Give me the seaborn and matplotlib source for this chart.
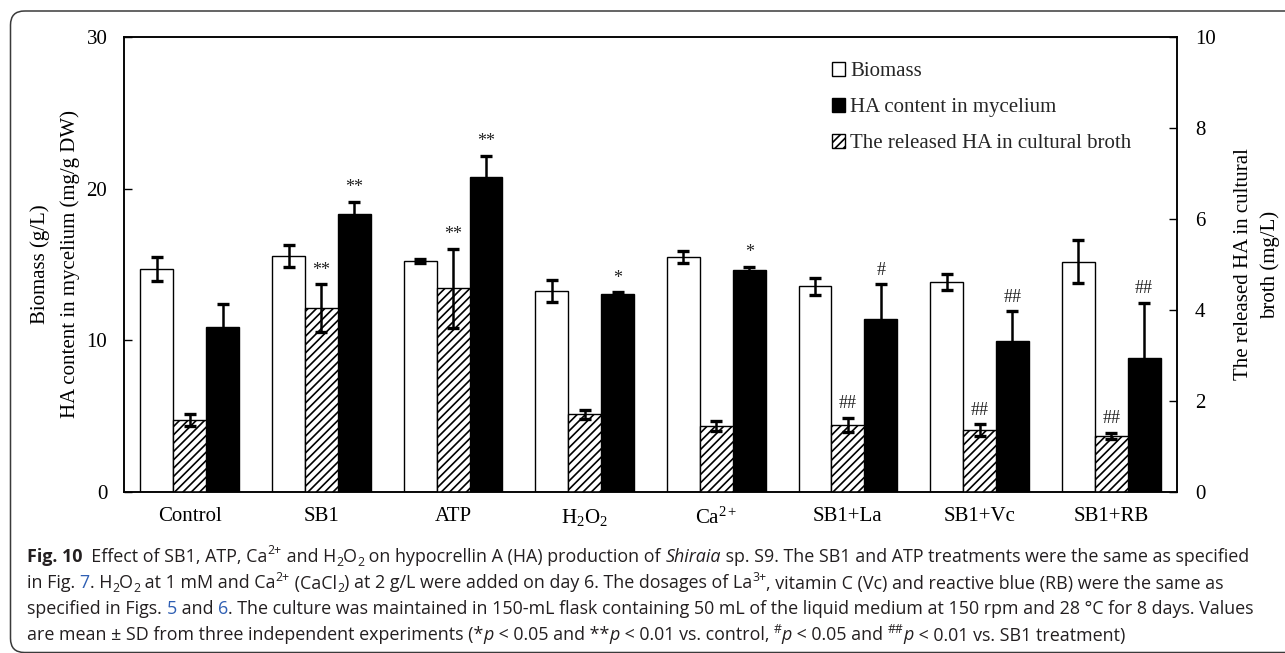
import numpy as np
import pandas as pd
import matplotlib
matplotlib.use("Agg")
import matplotlib.pyplot as plt
import seaborn as sns
from matplotlib.patches import Patch, FancyBboxPatch
from matplotlib.transforms import Affine2D
from matplotlib import font_manager

# ---------------- data ----------------
cat_keys = ["Control", "SB1", "ATP", "H2O2", "Ca2+", "SB1+La", "SB1+Vc", "SB1+RB"]
tick_labels = ["Control", "SB1", "ATP", "H$_2$O$_2$", "Ca$^{2+}$", "SB1+La", "SB1+Vc", "SB1+RB"]
biomass = [14.70, 15.56, 15.23, 13.25, 15.49, 13.56, 13.86, 15.18]
biomass_sd = [0.80, 0.72, 0.10, 0.75, 0.42, 0.57, 0.53, 1.43]
ha_content = [10.86, 18.35, 20.77, 13.03, 14.65, 11.40, 9.95, 8.81]
ha_sd = [1.53, 0.79, 1.40, 0.13, 0.20, 2.29, 1.96, 3.65]
released = [1.58, 4.04, 4.48, 1.71, 1.44, 1.47, 1.36, 1.23]
released_sd = [0.13, 0.53, 0.87, 0.10, 0.11, 0.16, 0.13, 0.07]
marks_released = ["", "**", "**", "", "", "##", "##", "##"]
marks_ha = ["", "**", "**", "*", "*", "#", "##", "##"]
series_names = ["Biomass", "The released HA in cultural broth", "HA content in mycelium"]
legend_labels = ["Biomass", "HA content in mycelium", "The released HA in cultural broth"]

# ---------------- style ----------------
sns.set_theme(style="ticks")
SERIF = ["Liberation Serif", "DejaVu Serif"]
plt.rcParams["font.family"] = SERIF
plt.rcParams["mathtext.fontset"] = "custom"
plt.rcParams["mathtext.rm"] = "Liberation Serif"
plt.rcParams["mathtext.it"] = "Liberation Serif:italic"
plt.rcParams["hatch.linewidth"] = 1.2
plt.rcParams["hatch.color"] = "black"

W, H = 1285, 653
fig = plt.figure(figsize=(W / 100, H / 100), dpi=100)
PX = Affine2D().scale(1 / W, -1 / H).translate(0, 1) + fig.transFigure  # pixel coords from top-left

ax = fig.add_axes([124 / W, 1 - 492 / H, (1177 - 124) / W, (492 - 37) / H])
ax2 = ax.twinx()

left_df = pd.DataFrame({
    "cat": cat_keys * 2,
    "series": [series_names[0]] * 8 + [series_names[2]] * 8,
    "value": biomass + ha_content,
})
right_df = pd.DataFrame({"cat": cat_keys, "series": [series_names[1]] * 8, "value": released})
pal = {series_names[0]: "white", series_names[1]: "white", series_names[2]: "black"}

sns.barplot(data=left_df, x="cat", y="value", hue="series", hue_order=series_names,
            order=cat_keys, palette=pal, saturation=1, width=0.75, errorbar=None, dodge=True,
            edgecolor="black", linewidth=1.0, legend=False, ax=ax)
sns.barplot(data=right_df, x="cat", y="value", hue="series", hue_order=series_names,
            order=cat_keys, palette=pal, saturation=1, width=0.75, errorbar=None, dodge=True,
            edgecolor="black", linewidth=1.0, legend=False, ax=ax2)
for p in ax2.patches:
    p.set_hatch("////")


def level_of(p):
    cx = p.get_x() + p.get_width() / 2
    ci = int(round(cx))
    off = cx - ci
    lv = 0 if off < -0.1 else (2 if off > 0.1 else 1)
    return ci, lv, cx


ebkw = dict(fmt="none", ecolor="black", elinewidth=1.8, capsize=4.2, capthick=2.4, zorder=5)
ann_kw = dict(textcoords="offset points", ha="center", va="bottom", fontsize=13, color="#222222")
for p in ax.patches:
    ci, lv, cx = level_of(p)
    if lv == 0:
        ax.errorbar(cx, biomass[ci], yerr=biomass_sd[ci], **ebkw)
    elif lv == 2:
        ax.errorbar(cx, ha_content[ci], yerr=ha_sd[ci], **ebkw)
        if marks_ha[ci]:
            ax.annotate(marks_ha[ci], (cx, ha_content[ci] + ha_sd[ci]), xytext=(0, 4), **ann_kw)
for p in ax2.patches:
    ci, lv, cx = level_of(p)
    if lv == 1:
        ax2.errorbar(cx, released[ci], yerr=released_sd[ci], **ebkw)
        if marks_released[ci]:
            ax2.annotate(marks_released[ci], (cx, released[ci] + released_sd[ci]), xytext=(0, 4), **ann_kw)

# axes formatting
ax.set_xlim(-0.5, len(cat_keys) - 0.5)
ax.set_ylim(0, 30)
ax.set_yticks([0, 10, 20, 30])
ax2.set_ylim(0, 10)
ax2.set_yticks([0, 2, 4, 6, 8, 10])
ax.set_xticks(range(len(cat_keys)))
ax.set_xticklabels(tick_labels)
ax2.set_xlim(-0.5, len(cat_keys) - 0.5)
ax.set_xlabel("")
ax2.set_xlabel("")
for a in (ax, ax2):
    for s in a.spines.values():
        s.set_visible(True)
        s.set_color("black")
        s.set_linewidth(1.1)
ax.tick_params(axis="y", direction="in", length=6, width=1, pad=12, labelsize=15, colors="black")
ax2.tick_params(axis="y", direction="in", length=6, width=1, pad=13, labelsize=15, colors="black")
ax.tick_params(axis="x", length=0, pad=11, labelsize=15, colors="black")
ax2.tick_params(axis="x", length=0)
ax.set_ylabel("Biomass (g/L)\nHA content in mycelium (mg/g DW)", fontsize=15,
              linespacing=1.65, labelpad=5, color="black")
ax2.set_ylabel("The released HA in cultural\nbroth (mg/L)", fontsize=15,
               linespacing=1.5, labelpad=13, color="black", rotation=90)

handles = [Patch(facecolor="white", edgecolor="black", linewidth=1),
           Patch(facecolor="black", edgecolor="black", linewidth=1),
           Patch(facecolor="white", edgecolor="black", hatch="////", linewidth=1)]
ax2.legend(handles, legend_labels, loc="upper left", bbox_to_anchor=(832 / W, 1 - 62 / H),
           bbox_transform=fig.transFigure, frameon=False, fontsize=15,
           handlelength=0.62, handleheight=0.62, handletextpad=0.25, labelspacing=0.82,
           borderaxespad=0, borderpad=0)

# outer rounded frame
frame = FancyBboxPatch((10.5, 11), 1300, 641.5, boxstyle="round,pad=0,rounding_size=14",
                       transform=PX, facecolor="none", edgecolor="#3a3a3a", linewidth=1.1,
                       figure=fig)
fig.patches.append(frame)

# ---------------- caption ----------------
def pick_font():
    for name in ["Liberation Sans Narrow", "Open Sans", "Noto Sans", "Liberation Sans"]:
        try:
            font_manager.findfont(font_manager.FontProperties(family=name), fallback_to_default=False)
            return name
        except Exception:
            continue
    return "DejaVu Sans"


CAP_FONT = [pick_font(), "DejaVu Sans"]
BLUE = "#2f5fb3"
N = {}
B = {"weight": "bold"}
I = {"style": "italic"}
SUP = {"sup": True}
SUB = {"sub": True}
BL = {"color": BLUE}
lines = [
    [("Fig. 10", B), ("  Effect of SB1, ATP, Ca", N), ("2+", SUP), (" and H", N), ("2", SUB), ("O", N),
     ("2", SUB), (" on hypocrellin A (HA) production of ", N), ("Shiraia", I),
     (" sp. S9. The SB1 and ATP treatments were the same as specified", N)],
    [("in Fig. ", N), ("7", BL), (". H", N), ("2", SUB), ("O", N), ("2", SUB), (" at 1 mM and Ca", N),
     ("2+", SUP), (" (CaCl", N), ("2", SUB), (") at 2 g/L were added on day 6. The dosages of La", N),
     ("3+", SUP), (", vitamin C (Vc) and reactive blue (RB) were the same as", N)],
    [("specified in Figs. ", N), ("5", BL), (" and ", N), ("6", BL),
     (". The culture was maintained in 150-mL flask containing 50 mL of the liquid medium at 150 rpm and 28 \u00b0C for 8 days. Values", N)],
    [("are mean \u00b1 SD from three independent experiments (*", N), ("p", I), (" < 0.05 and **", N),
     ("p", I), (" < 0.01 vs. control, ", N), ("#", SUP), ("p", I), (" < 0.05 and ", N), ("##", SUP),
     ("p", I), (" < 0.01 vs. SB1 treatment)", N)],
]
targets = [1249, 1230, 1242, 1101]
baselines = [562, 588.5, 614, 640.5]
renderer = fig.canvas.get_renderer()


def draw_line(segs, x0, y, size, keep=True):
    x = x0
    made = []
    for s, st in segs:
        fs = size * (0.68 if (st.get("sup") or st.get("sub")) else 1.0)
        dy = -0.42 * size if st.get("sup") else (0.22 * size if st.get("sub") else 0.0)
        t = fig.text(x, y + dy * 100 / 72, s, transform=PX, fontsize=fs, family=CAP_FONT,
                     weight=st.get("weight", "normal"), style=st.get("style", "normal"),
                     color=st.get("color", "#231f20"), ha="left", va="baseline")
        bb = t.get_window_extent(renderer)
        x += bb.width
        made.append(t)
    if not keep:
        for t in made:
            t.remove()
    return x - x0


base = 12.0
ratios = [tw / draw_line(segs, 27, 600, base, keep=False) for segs, tw in zip(lines, targets)]
cap_size = base * min(ratios)
for segs, yb in zip(lines, baselines):
    draw_line(segs, 27, yb, cap_size)

fig.savefig("out.png", dpi=100)
